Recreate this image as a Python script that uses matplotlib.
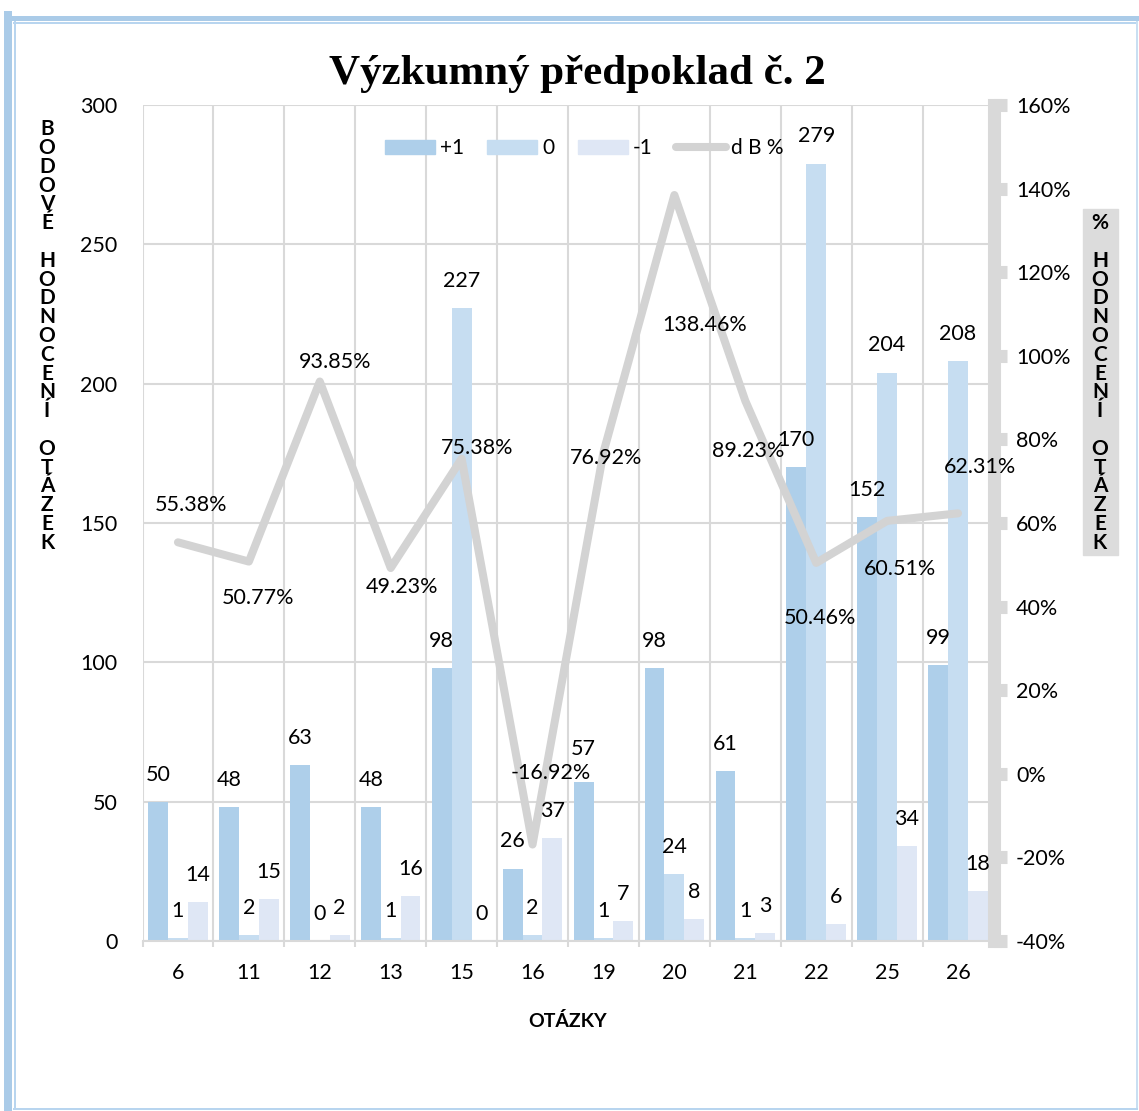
import matplotlib
matplotlib.use("Agg")
import matplotlib.pyplot as plt
from matplotlib.lines import Line2D
from matplotlib.patches import Rectangle
import numpy as np

# ---- data ----
questions = ['6', '11', '12', '13', '15', '16', '19', '20', '21', '22', '25', '26']
plus_one = [50, 48, 63, 48, 98, 26, 57, 98, 61, 170, 152, 99]
zero = [1, 2, 0, 1, 227, 2, 1, 24, 1, 279, 204, 208]
minus_one = [14, 15, 2, 16, 0, 37, 7, 8, 3, 6, 34, 18]
db_pct = [55.38, 50.77, 93.85, 49.23, 75.38, -16.92, 76.92, 138.46, 89.23, 50.46, 60.51, 62.31]
series_names = ['+1', '0', '-1', 'd B %']
left_ticks = [0, 50, 100, 150, 200, 250, 300]
right_ticks = [-40, -20, 0, 20, 40, 60, 80, 100, 120, 140, 160]

# ---- style ----
c_plus, c_zero, c_minus = '#aecfea', '#c6ddf1', '#dfe7f5'
c_line = '#d3d3d3'
c_grid = '#d9d9d9'
fs = 15.5
# percentage label offsets in pixels (dx, dy downward)
pct_offsets_px = [(13, -37), (9, 36), (15, -20), (11, 19), (16, -11), (18, -72),
                  (3, 6), (30, 130), (3, 50), (4, 55), (13, 48), (22, -46)]
# extra lift (pixels) for individual bar labels: (series index, category index)
bar_label_lift_px = {(0, 6): 6}

plt.rcParams['font.family'] = ['Lato', 'DejaVu Sans']
W, H = 1139, 1111
fig = plt.figure(figsize=(W / 100, H / 100), dpi=100)


def fx(px):
    return px / W


def fy(py):
    return 1 - py / H


ax = fig.add_axes([fx(142.5), fy(941), 851 / W, 836 / H])
ax2 = ax.twinx()

x = np.arange(len(questions))
bw = 0.28
ax.bar(x - bw, plus_one, bw, color=c_plus, zorder=2)
ax.bar(x, zero, bw, color=c_zero, zorder=2)
ax.bar(x + bw, minus_one, bw, color=c_minus, zorder=2)

ax.set_xlim(-0.5, len(questions) - 0.5)
ax.set_ylim(0, 300)
ax.set_yticks(left_ticks)
ax.set_yticklabels([str(t) for t in left_ticks])
ax.set_xticks(x)
ax.set_xticklabels(questions)
ax.set_xticks(np.arange(-0.5, len(questions), 1), minor=True)
ax.tick_params(axis='y', length=0, pad=18, labelsize=fs)
ax.tick_params(axis='x', which='major', length=0, pad=16, labelsize=fs)
ax.tick_params(axis='x', which='minor', length=4.5, width=1.5, color=c_grid)
ax.set_axisbelow(True)
ax.yaxis.grid(True, color=c_grid, lw=1.5)
ax.xaxis.grid(True, which='minor', color=c_grid, lw=1.5)
for s in ['left', 'top', 'right']:
    ax.spines[s].set_visible(False)
ax.spines['bottom'].set_color(c_grid)
ax.spines['bottom'].set_linewidth(1.5)

# percentage axis
ax2.set_ylim(-40, 160)
ax2.set_yticks(right_ticks)
ax2.set_yticklabels([f'{t}%' for t in right_ticks])
ax2.tick_params(axis='y', direction='out', length=9.7, width=9.4, color=c_grid,
                pad=6.5, labelsize=fs)
for s in ['left', 'top', 'bottom']:
    ax2.spines[s].set_visible(False)
ax2.spines['right'].set_color(c_grid)
ax2.spines['right'].set_linewidth(9.4)

ax2.plot(x, db_pct, color=c_line, lw=5.8, solid_joinstyle='round',
         solid_capstyle='round', zorder=3)

# value labels on bars
for si, (offs, vals) in enumerate([(-bw, plus_one), (0, zero), (bw, minus_one)]):
    for xi, v in zip(x, vals):
        lift = bar_label_lift_px.get((si, int(xi)), 0)
        ax2.annotate(str(v), (xi + offs, v), xycoords=ax.transData,
                     xytext=(0, 19.5 + lift * 0.72), textcoords='offset points',
                     ha='center', va='center', fontsize=fs, zorder=5)

# percentage labels
for xi, v, (dx, dy) in zip(x, db_pct, pct_offsets_px):
    ax2.annotate(f'{v:.2f}%', (xi, v), xytext=(dx * 0.72, -dy * 0.72),
                 textcoords='offset points', ha='center', va='center',
                 fontsize=fs, zorder=5)

handles = [Rectangle((0, 0), 1, 1, color=c_plus),
           Rectangle((0, 0), 1, 1, color=c_zero),
           Rectangle((0, 0), 1, 1, color=c_minus),
           Line2D([], [], color=c_line, lw=5.8, solid_capstyle='round')]
ax2.legend(handles, series_names, loc='center', bbox_to_anchor=(0.519, 0.9486),
           ncol=4, frameon=False, fontsize=15, handlelength=2.4,
           handletextpad=0.25, columnspacing=1.1, handleheight=0.65)

# titles
fig.text(fx(577), fy(74), 'Výzkumný předpoklad č. 2', family='Liberation Serif',
         weight='bold', fontsize=31, ha='center', va='center')
fig.text(fx(47), fy(336), '\n'.join('BODOVÉ HODNOCENÍ OTÁZEK'), ha='center',
         va='center', fontsize=15, weight='bold', linespacing=0.925)
fig.patches.append(Rectangle((fx(1083), fy(555)), 35 / W, 346 / H,
                             transform=fig.transFigure, color='#dcdcdc', zorder=0))
fig.text(fx(1100), fy(383), '\n'.join('% HODNOCENÍ OTÁZEK'), ha='center',
         va='center', fontsize=15, weight='bold', linespacing=0.925)
fig.text(fx(568), fy(1021), 'OTÁZKY', ha='center', va='center', fontsize=14,
         weight='bold')

# frame around the chart
frame = [((8, 1139), (17.5, 17.5), 5, '#aacbe8'),
         ((8, 8), (15, 1111), 8, '#aacbe8'),
         ((14, 1137), (23, 23), 2, '#b8d5ef'),
         ((15, 15), (22, 1109), 2, '#b8d5ef'),
         ((1137, 1137), (22, 1109), 2, '#c9dff2'),
         ((14, 1137), (1109, 1109), 2, '#b8d5ef')]
for xs, ys, lw, col in frame:
    fig.add_artist(Line2D([fx(xs[0]), fx(xs[1])], [fy(ys[0]), fy(ys[1])],
                          transform=fig.transFigure, lw=lw * 0.72, color=col))

fig.savefig('out.png', dpi=100)
